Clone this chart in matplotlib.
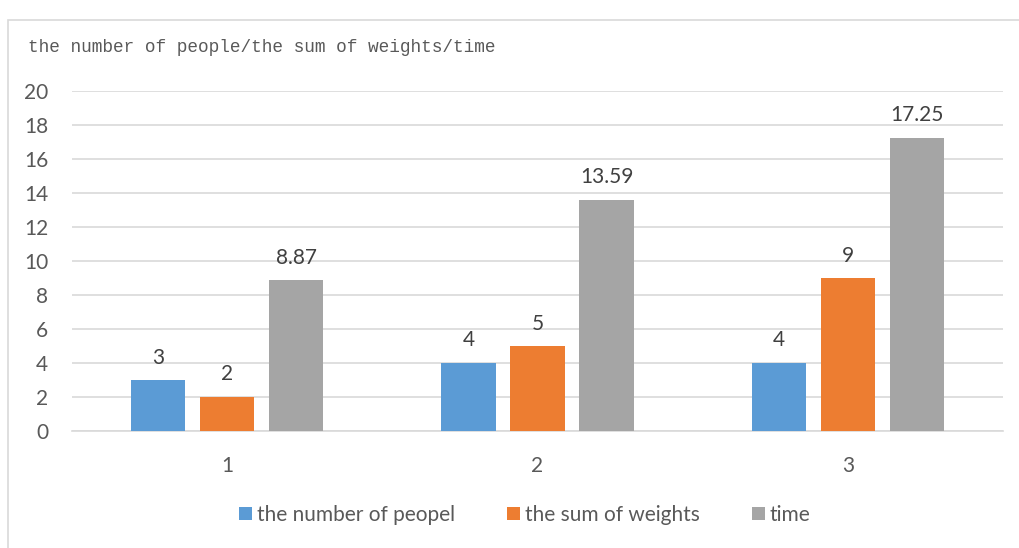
import numpy as np
import matplotlib.pyplot as plt
from matplotlib.patches import Rectangle

categories = ["1", "2", "3"]
people = [3, 4, 4]
weights = [2, 5, 9]
time_vals = [8.87, 13.59, 17.25]
series_names = ["the number of peopel", "the sum of weights", "time"]
colors = ["#5B9BD5", "#ED7D31", "#A5A5A5"]

plt.rcParams["font.family"] = ["Lato", "DejaVu Sans"]

fig = plt.figure(figsize=(10.2, 5.48), dpi=100)
fig.patch.set_facecolor("white")

# chart frame
fig.add_artist(Rectangle((8 / 1020, -0.05), 1.1, (538 - 10) / 548 + 0.05,
                         transform=fig.transFigure, fill=False,
                         edgecolor="#D9D9D9", linewidth=1.2))

ax = fig.add_axes([72 / 1020, (548 - 431) / 548, 931 / 1020, 340 / 548])

x = np.arange(len(categories))
width = 0.175
offset = 0.2225
series = [people, weights, time_vals]
for i, vals in enumerate(series):
    bars = ax.bar(x + (i - 1) * offset, vals, width, color=colors[i],
                  label=series_names[i], zorder=3)
    labels = [f"{v:g}" for v in vals]
    ax.bar_label(bars, labels=labels, padding=9, fontsize=15, color="#404040")

ax.set_xlim(-0.5, 2.5)
ax.set_ylim(0, 20)
ax.set_yticks(range(0, 21, 2))
ax.set_xticks(x)
ax.set_xticklabels(categories)
ax.yaxis.grid(True, color="#D9D9D9", linewidth=1.2, zorder=0)
for s in ["top", "right", "left"]:
    ax.spines[s].set_visible(False)
ax.spines["bottom"].set_color("#D9D9D9")
ax.spines["bottom"].set_linewidth(1.2)
ax.tick_params(axis="both", length=0, labelsize=15, labelcolor="#595959")
ax.tick_params(axis="y", pad=17)
ax.tick_params(axis="x", pad=18)

fig.text(28 / 1020, 1 - 48 / 548, "the number of people/the sum of weights/time",
         family=["Liberation Mono", "DejaVu Sans Mono"], fontsize=12.8,
         color="#595959", va="center", ha="left")

fig.legend(loc="center", bbox_to_anchor=(525 / 1020, 1 - 515 / 548), ncol=3,
           frameon=False, fontsize=15, handlelength=0.6, handleheight=0.6,
           handletextpad=0.25, columnspacing=2.5, labelcolor="#595959")

fig.savefig("out.png", dpi=100)
